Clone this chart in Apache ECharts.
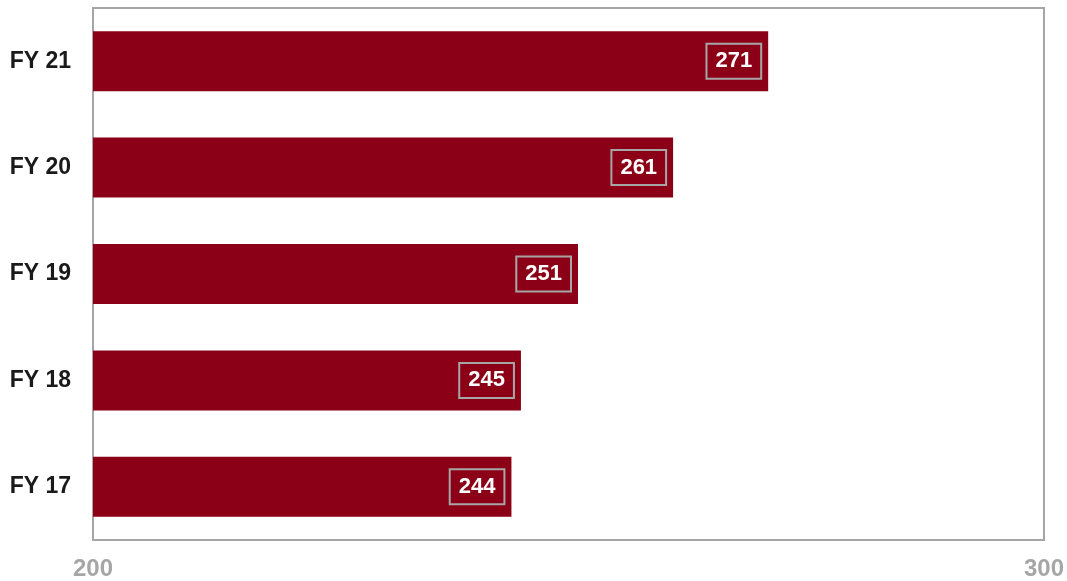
<!DOCTYPE html>
<html><head><meta charset="utf-8">
<script src="https://cdn.jsdelivr.net/npm/echarts@6/dist/echarts.min.js"></script>
<style>html,body{margin:0;padding:0;background:#fff}#c{width:1067px;height:581px}</style>
</head><body><div id="c"></div>
<script>
const categories = ['FY 17','FY 18','FY 19','FY 20','FY 21'];
const values = [244, 245, 251, 261, 271];
const xTicks = [200, 300];

const chart = echarts.init(document.getElementById('c'));
chart.setOption({
  animation: false,
  grid: {left: 93, right: 23, top: 8, bottom: 41, show: true, borderColor: '#a6a6a6', borderWidth: 2, containLabel: false},
  xAxis: {
    type: 'value', min: xTicks[0], max: xTicks[1], interval: 100,
    axisLine: {show: false}, axisTick: {show: false}, splitLine: {show: false},
    axisLabel: {color: '#a6a6a6', fontFamily: 'Liberation Sans, Arial', fontWeight: 'bold', fontSize: 24, margin: 17}
  },
  yAxis: {
    type: 'category', data: categories,
    axisLine: {show: false}, axisTick: {show: false},
    axisLabel: {color: '#1a1a1a', fontFamily: 'Liberation Sans, Arial', fontWeight: 'bold', fontSize: 23, margin: 22}
  },
  series: [{
    type: 'bar', data: values, barWidth: 60,
    itemStyle: {color: '#8b0016'},
    label: {
      show: true, position: 'insideRight', distance: 7,
      color: '#fff', fontFamily: 'Liberation Sans, Arial', fontWeight: 'bold', fontSize: 22,
      lineHeight: 22, borderColor: '#a6a6a6', borderWidth: 2, padding: [7, 9, 6, 9]
    }
  }]
});
</script></body></html>
